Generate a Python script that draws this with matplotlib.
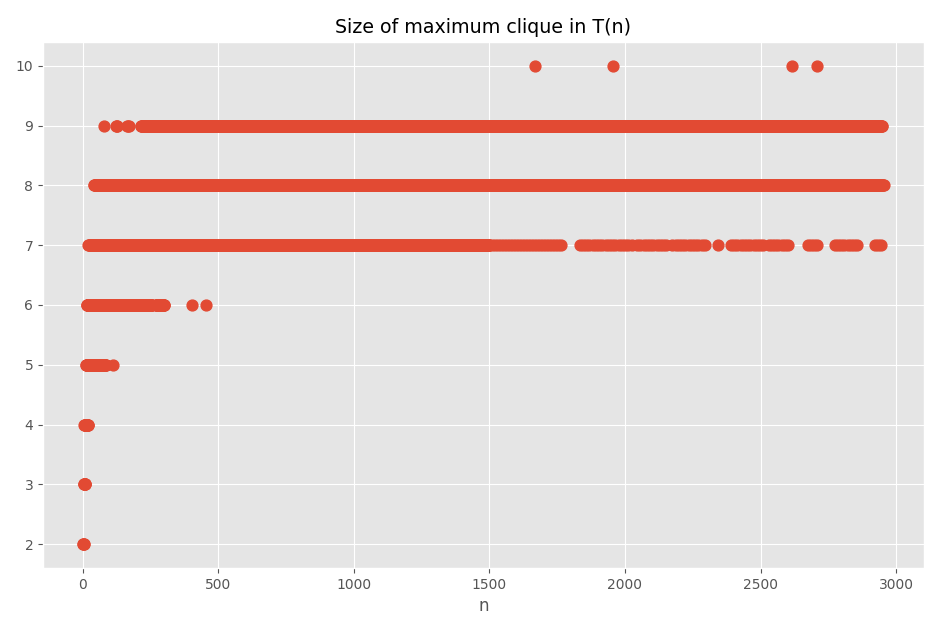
import numpy as np
import matplotlib
matplotlib.use("Agg")
import matplotlib.pyplot as plt

plt.style.use("ggplot")

# runs of n for each clique size: (start, end, step)
lvl2_runs = [(1, 4, 1)]
lvl3_runs = [(4, 10, 1)]
lvl4_runs = [(6, 20, 1)]
lvl5_runs = [(12, 85, 1), (110, 110, 1)]
lvl6_runs = [(15, 230, 1), (240, 255, 1), (270, 300, 1), (404, 404, 1), (455, 455, 1)]
lvl7_runs = [(20, 1500, 2), (1500, 1765, 11), (1833, 2027, 12), (2045, 2160, 12),
             (2175, 2300, 12), (2343, 2343, 1), (2391, 2512, 12), (2530, 2607, 12),
             (2677, 2710, 11), (2773, 2865, 12), (2923, 2945, 11)]
lvl8_runs = [(40, 2955, 2)]
lvl9_runs = [(80, 80, 1), (122, 128, 3), (163, 170, 3), (213, 2950, 2)]
lvl10_n = [1667, 1957, 2618, 2710]

levels = {2: lvl2_runs, 3: lvl3_runs, 4: lvl4_runs, 5: lvl5_runs,
          6: lvl6_runs, 7: lvl7_runs, 8: lvl8_runs, 9: lvl9_runs}

xs = []
ys = []
for size, runs in levels.items():
    for a, b, step in runs:
        pts = np.arange(a, b + 1, step)
        xs.extend(pts)
        ys.extend([size] * len(pts))
xs.extend(lvl10_n)
ys.extend([10] * len(lvl10_n))

fig = plt.figure(figsize=(9.25, 6.24), dpi=100)
ax = fig.add_axes([0.0465, 0.0897, 0.952, 0.8433])
ax.plot(xs, ys, "o", ms=7.8, color="#E24A33")
ax.set_title("Size of maximum clique in T(n)", fontsize=13.7)
ax.set_xlabel("n")
ax.set_xticks([0, 500, 1000, 1500, 2000, 2500, 3000])
ax.set_yticks(range(2, 11))
fig.savefig("out.png", dpi=100)
